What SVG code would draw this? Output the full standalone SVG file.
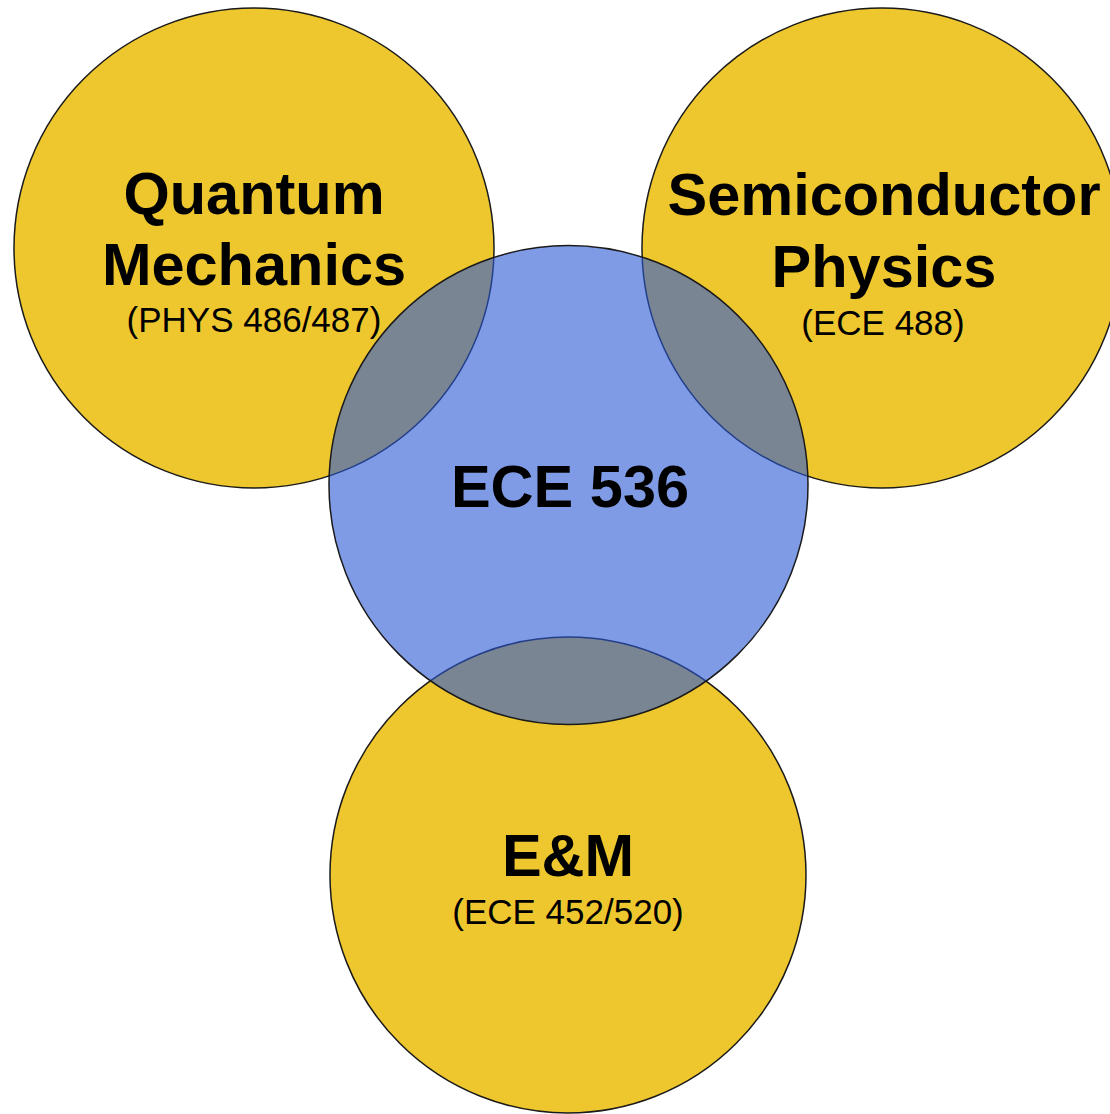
<svg xmlns="http://www.w3.org/2000/svg" width="1110" height="1114" viewBox="0 0 1110 1114">
  <style>
    .yc { fill: #eec72f; stroke: #1a1a1a; stroke-width: 1.5; }
    .bc { fill: #2b58d5; fill-opacity: 0.6; stroke: #1a1a1a; stroke-width: 1.5; }
    .t { font-family: "Liberation Sans", Arial, sans-serif; fill: #000; text-anchor: middle; }
    .big { font-size: 59.5px; font-weight: bold; }
    .small { font-size: 35px; }
  </style>
  <rect width="1110" height="1114" fill="#ffffff"/>
  <g id="quantum">
    <circle class="yc" cx="254" cy="248" r="240"/>
    <text class="t big" x="254" y="214">Quantum</text>
    <text class="t big" x="254" y="285">Mechanics</text>
    <text class="t small" x="254" y="332">(PHYS 486/487)</text>
  </g>
  <g id="semiconductor">
    <circle class="yc" cx="882" cy="248" r="240"/>
    <text class="t big" x="884" y="215">Semiconductor</text>
    <text class="t big" x="884" y="287">Physics</text>
    <text class="t small" x="883" y="335">(ECE 488)</text>
  </g>
  <g id="em">
    <circle class="yc" cx="568" cy="875" r="238"/>
    <text class="t big" x="568" y="876">E&amp;M</text>
    <text class="t small" x="568" y="924">(ECE 452/520)</text>
  </g>
  <g id="ece536">
    <circle class="bc" cx="568.5" cy="485" r="239.5"/>
    <text class="t big" x="570" y="507">ECE 536</text>
  </g>
  <g id="connectors"></g>
</svg>
